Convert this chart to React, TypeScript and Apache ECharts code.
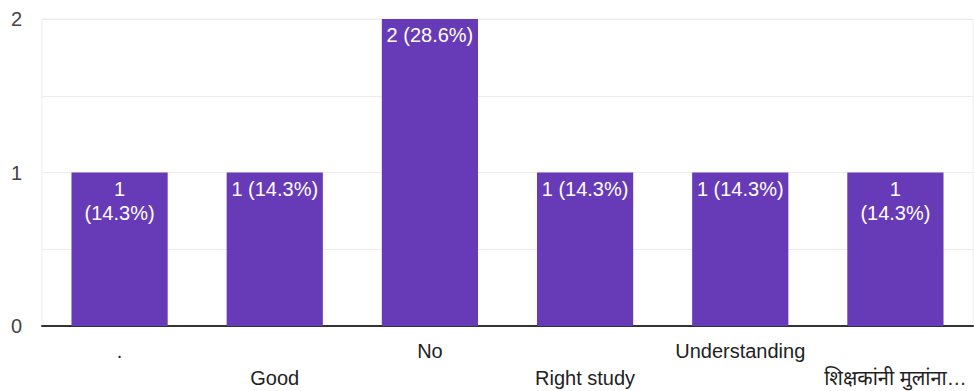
import React, { useEffect, useRef } from "react";
import * as echarts from "echarts";

const categories = [".", "Good", "No", "Right study", "Understanding", "शिक्षकांनी मुलांना…"];
const counts = [1, 1, 2, 1, 1, 1];
const percents = ["14.3", "14.3", "28.6", "14.3", "14.3", "14.3"];
const wrappedLabels = [true, false, false, false, false, true];
const yTicks = [0, 1, 2];

export default function App() {
  const ref = useRef<HTMLDivElement>(null);
  useEffect(() => {
    if (!ref.current) return;
    const chart = echarts.init(ref.current, null, { renderer: "svg" });
    const font = "'Liberation Sans', Arial, 'Noto Sans', sans-serif";
    chart.setOption({
      animation: false,
      textStyle: { fontFamily: font },
      grid: {
        left: 42,
        right: 1,
        top: 19,
        bottom: 64,
        show: true,
        borderColor: "#ececec",
        borderWidth: 1,
      },
      xAxis: {
        type: "category",
        data: categories,
        axisLine: { show: true, lineStyle: { color: "#333333", width: 2 } },
        axisTick: { show: false },
        axisLabel: {
          interval: 0,
          color: "#222222",
          fontSize: 20,
          fontFamily: font,
          lineHeight: 27,
          margin: 11,
          formatter: (v: string, i: number) => (i % 2 === 1 ? "\n" + v : v),
        },
      },
      yAxis: {
        type: "value",
        min: 0,
        max: yTicks[yTicks.length - 1],
        interval: 0.5,
        axisLine: { show: false },
        axisTick: { show: false },
        splitLine: { show: true, lineStyle: { color: "#ececec", width: 1 } },
        axisLabel: {
          color: "#444444",
          fontSize: 20,
          fontFamily: font,
          margin: 20,
          formatter: (v: number) => (yTicks.includes(v) ? String(v) : ""),
        },
      },
      series: [
        {
          type: "bar",
          barWidth: "62%",
          itemStyle: { color: "#673ab7" },
          data: counts.map((c, i) => ({
            value: c,
            label: {
              show: true,
              position: "insideTop",
              distance: 4,
              color: "#ffffff",
              fontSize: 20,
              lineHeight: 24,
              fontFamily: font,
              align: "center",
              formatter: wrappedLabels[i]
                ? `${c}\n(${percents[i]}%)`
                : `${c} (${percents[i]}%)`,
            },
          })),
        },
      ],
    });
    return () => chart.dispose();
  }, []);
  return (
    <div
      ref={ref}
      style={{ position: "fixed", left: 0, top: 0, width: 974, height: 391, background: "#ffffff" }}
    />
  );
}
